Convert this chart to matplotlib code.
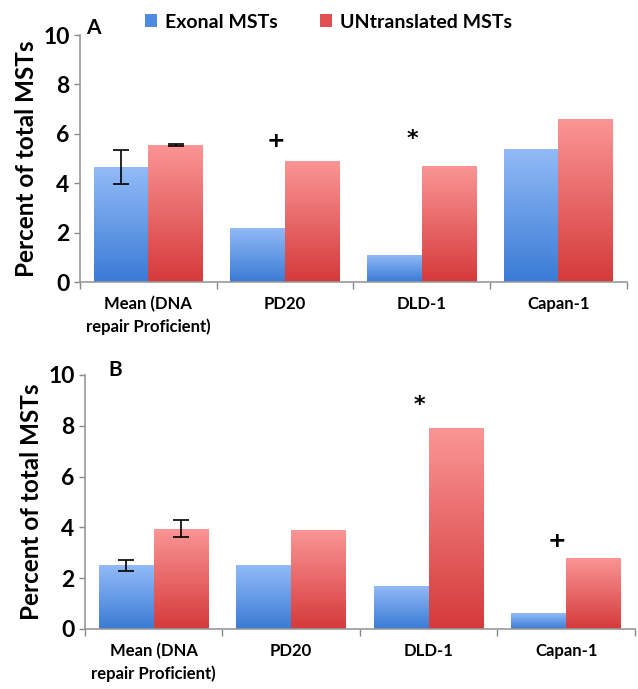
import matplotlib
matplotlib.use("Agg")
import matplotlib.pyplot as plt
import numpy as np
from matplotlib.colors import LinearSegmentedColormap
from matplotlib.patches import Patch

plt.rcParams['font.family'] = ['Lato', 'DejaVu Sans']
plt.rcParams['font.weight'] = 'bold'
plt.rcParams['axes.labelweight'] = 'bold'

categories = ["Mean (DNA\nrepair Proficient)", "PD20", "DLD-1", "Capan-1"]

# panel A
exonal_a = [4.65, 2.2, 1.1, 5.4]
untrans_a = [5.55, 4.9, 4.7, 6.6]
exonal_a_err = [0.7, 0, 0, 0]
untrans_a_err = [0.05, 0, 0, 0]
marks_a = [(1, "+", 5.7), (2, "*", 5.8)]

# panel B
exonal_b = [2.5, 2.5, 1.7, 0.62]
untrans_b = [3.95, 3.9, 7.9, 2.8]
exonal_b_err = [0.23, 0, 0, 0]
untrans_b_err = [0.33, 0, 0, 0]
marks_b = [(2, "*", 8.8), (3, "+", 3.45)]

blue_cmap = LinearSegmentedColormap.from_list("blue", ["#3a7bd5", "#92bbf7"])
red_cmap = LinearSegmentedColormap.from_list("red", ["#d53a3a", "#fb9696"])
grad = np.linspace(0, 1, 256).reshape(-1, 1)


def gradient_bars(ax, x, heights, cmap, width):
    bars = ax.bar(x, heights, width, color="none", edgecolor="none")
    for b in bars:
        x0, y0 = b.get_x(), b.get_y()
        im = ax.imshow(grad, cmap=cmap, origin="lower", aspect="auto",
                       extent=(x0, x0 + b.get_width(), y0, y0 + b.get_height()),
                       zorder=1)
        im.set_clip_path(b)
    return bars


def draw_panel(ax, exonal, untrans, e_err, u_err, marks, letter, letter_xy):
    x = np.arange(len(categories))
    w = 0.4
    gradient_bars(ax, x - w / 2, exonal, blue_cmap, w)
    gradient_bars(ax, x + w / 2, untrans, red_cmap, w)
    for i in range(len(x)):
        if e_err[i] > 0:
            ax.errorbar(x[i] - w / 2, exonal[i], yerr=e_err[i], color="black",
                        capsize=6, lw=1.2, capthick=1.2, zorder=3)
        if u_err[i] > 0:
            ax.errorbar(x[i] + w / 2, untrans[i], yerr=u_err[i], color="black",
                        capsize=6, lw=1.2, capthick=1.2, zorder=3)
    for i, s, y in marks:
        ax.text(i - 0.07, y, s, ha="center", va="center", fontsize=16,
                fontweight="bold", family="DejaVu Sans")
    ax.set_xlim(-0.5, 3.5)
    ax.set_ylim(0, 10)
    ax.set_yticks([0, 2, 4, 6, 8, 10])
    ax.tick_params(axis="y", labelsize=16.5, length=4, color="#888888", width=1)
    for lab in ax.get_yticklabels():
        lab.set_fontweight("bold")
    ax.set_xticks(x)
    ax.set_xticklabels(categories, fontsize=12, linespacing=1.45,
                       fontweight="bold")
    ax.tick_params(axis="x", length=0, pad=10)
    ax.set_xticks(np.arange(-0.5, 4, 1), minor=True)
    ax.tick_params(axis="x", which="minor", length=5, color="#888888", width=1)
    for sp in ["top", "right"]:
        ax.spines[sp].set_visible(False)
    for sp in ["left", "bottom"]:
        ax.spines[sp].set_color("#999999")
        ax.spines[sp].set_linewidth(1.2)
    ax.set_ylabel("Percent of total MSTs", fontsize=17.5, labelpad=4,
                  fontweight="bold")
    ax.text(letter_xy[0], letter_xy[1], letter, transform=ax.figure.transFigure,
            fontsize=15, ha="center", va="center", fontweight="bold")


fig = plt.figure(figsize=(6.38, 6.89), dpi=100)
ax1 = fig.add_axes([0.1254, 0.5907, 0.857, 0.3585])
ax2 = fig.add_axes([0.1332, 0.0871, 0.862, 0.3687])

draw_panel(ax1, exonal_a, untrans_a, exonal_a_err, untrans_a_err, marks_a,
           "A", (93 / 638, 1 - 28 / 689))
draw_panel(ax2, exonal_b, untrans_b, exonal_b_err, untrans_b_err, marks_b,
           "B", (115 / 638, 1 - 370 / 689))

handles = [Patch(facecolor="#4f8be0", edgecolor="none"),
           Patch(facecolor="#e05050", edgecolor="none")]
fig.legend(handles, ["Exonal MSTs", "UNtranslated MSTs"], loc="center",
           bbox_to_anchor=(0.515, 1 - 22 / 689), ncol=2, frameon=False,
           prop={"weight": "bold", "size": 14}, handlelength=0.6,
           handleheight=0.6, handletextpad=0.4, columnspacing=2.2)

fig.savefig("out.png", dpi=100)
